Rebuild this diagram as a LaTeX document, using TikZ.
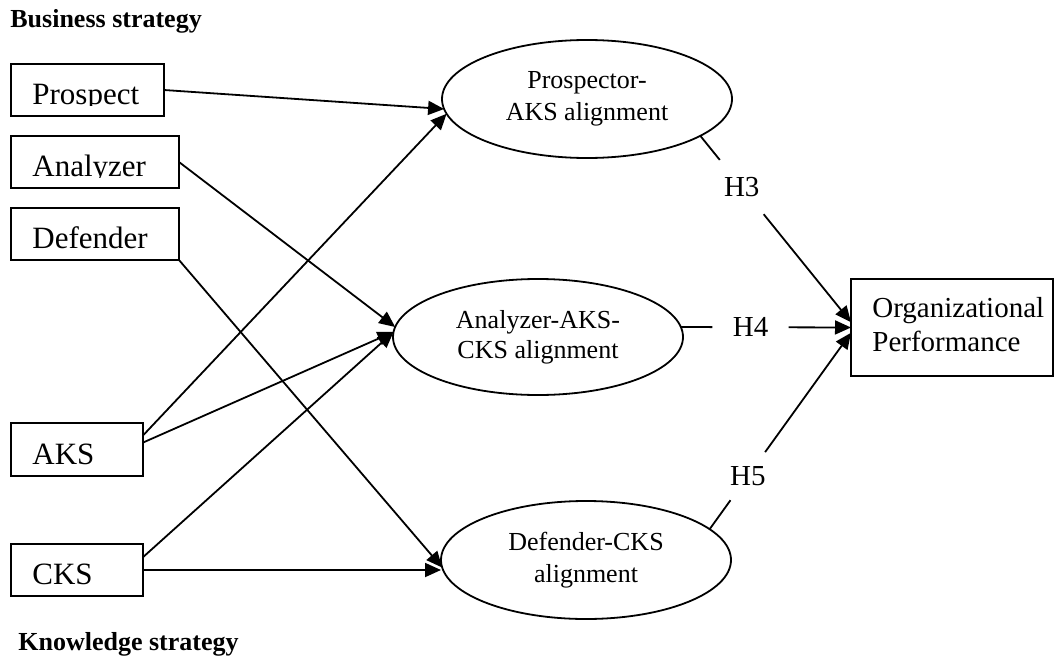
\documentclass[tikz,border=0pt]{standalone}
\usepackage{fontspec}
\setmainfont{Liberation Serif}
\usetikzlibrary{arrows.meta,calc,shapes.geometric}

% text of a strategy box, set on a baseline near the bottom edge and clipped there
\newcommand\strattext[3]{%
  \begin{scope}
    \clip ([yshift=5.5pt]#1.south west) rectangle (#1.north east);
    \node[boxtext, anchor=base west] (#2) at ([xshift=10.5pt,yshift=6pt]#1.south west) {#3};
  \end{scope}}

\begin{document}
\begin{tikzpicture}[x=0.5pt,y=-0.5pt,
  conn/.style={line width=0.9pt},
  arr/.style={conn,-{Triangle[length=8pt,width=7pt]}},
  stratbox/.style={draw,line width=0.9pt,rectangle,inner sep=0pt,outer sep=0pt},
  alignell/.style={draw,line width=0.9pt,ellipse,inner sep=0pt,outer sep=0pt,
    minimum width=145pt,minimum height=59pt,align=center,
    font=\fontsize{13}{16}\selectfont},
  boxtext/.style={inner sep=0pt,font=\fontsize{15.5}{18}\selectfont},
  perftext/.style={inner sep=0pt,align=left,font=\fontsize{14.5}{17}\selectfont},
  hyplabel/.style={inner xsep=4pt,inner ysep=8.5pt,font=\fontsize{14.5}{17}\selectfont},
  heading/.style={inner sep=0pt,font=\bfseries\fontsize{13}{15}\selectfont}]

\useasboundingbox (0,0) rectangle (1055,664);

% group headings
\node[heading, anchor=base west] (bs) at (10,27) {Business strategy};
\node[heading, anchor=base west] (ks) at (18,650) {Knowledge strategy};

% business strategy boxes
\node[stratbox, minimum width=76.5pt, minimum height=26pt] (pr) at (87.5,90) {};
\node[stratbox, minimum width=84pt, minimum height=26pt] (an) at (95,162) {};
\node[stratbox, minimum width=84pt, minimum height=26pt] (de) at (95,234) {};
\strattext{pr}{prt}{Prospect}
\strattext{an}{ant}{Analyzer}
\strattext{de}{det}{Defender}

% knowledge strategy boxes
\node[stratbox, minimum width=66pt, minimum height=26.5pt] (ak) at (77,449.5) {};
\node[stratbox, minimum width=66pt, minimum height=26pt] (ck) at (77,570) {};
\strattext{ak}{akt}{AKS}
\strattext{ck}{ckt}{CKS}

% alignment constructs
\node[alignell] (pe) at (587,99) {Prospector-\\AKS alignment};
\node[alignell, minimum height=58pt, font=\fontsize{13}{15}\selectfont] (ae) at (538,337) {Analyzer-AKS-\\CKS alignment};
\node[alignell] (dee) at (586,560) {Defender-CKS\\alignment};

% outcome
\node[stratbox, minimum width=101pt, minimum height=48.5pt] (op) at (952,327.5) {};
\node[perftext, anchor=west] (opt) at ([xshift=10.5pt,yshift=1.5pt]op.west) {Organizational\\Performance};

% strategy -> alignment
\draw[arr] (pr.east) -- (pe.184);
\draw[arr] (ak.12) -- (pe.186);
\draw[arr] (an.east) -- (ae.176);
\draw[arr] (ak.6) -- (ae.178);
\draw[arr] (ck.11) -- (ae.178);
\draw[arr] (de.south east) -- (dee.183);
\draw[arr] (ck.east) -- (ck.east -| dee.west);

% hypotheses
\node[hyplabel] (h3) at ($(pe.342)!0.275!(op.177)$) {H3};
\node[hyplabel, inner xsep=10pt] (h4) at ($(ae.4)!0.41!(op.west)$) {H4\hspace{6pt}};
\node[hyplabel, inner ysep=7pt] (h5) at ($(dee.14)!0.27!(op.183)$) {H5};

\draw[conn] (pe.342) -- (h3);
\draw[arr] (h3) -- (op.177);
\draw[conn] (ae.4) -- (h4);
\draw[arr] (h4) -- (op.west);
\draw[conn] (dee.14) -- (h5);
\draw[arr] (h5) -- (op.183);
\end{tikzpicture}
\end{document}
